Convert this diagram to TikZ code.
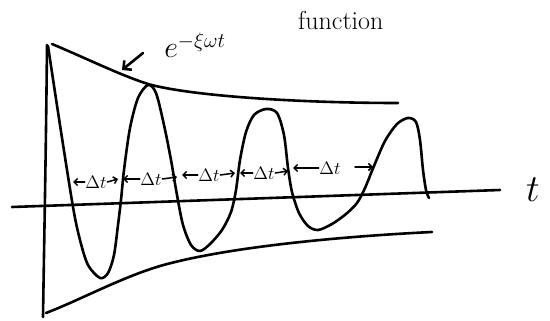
\documentclass[tikz,border=0pt]{standalone}
\usetikzlibrary{arrows.meta}
\begin{document}
\begin{tikzpicture}[x=1pt,y=-1pt,
  ink/.style={line width=2.6pt,line cap=round,line join=round},
  dtarrow/.style={line width=1.5pt,line cap=round,-{Straight Barb[length=3.5pt,width=7pt]}},
  dtlabel/.style={inner sep=0.3pt,font=\large,scale=1.5},
  bigtext/.style={inner sep=0pt,anchor=base west},
]
\useasboundingbox (0,0) rectangle (550,321);
% axes
\coordinate (ax0) at (12,207);
\coordinate (ax1) at (500,190);
\draw[ink] (ax0) -- (ax1);
\coordinate (vy0) at (47,45);
\coordinate (vy1) at (43,317);
\draw[ink] (vy0) .. controls (46,150) and (44,250) .. (vy1);
% envelopes
\draw[ink] (52,44) .. controls (90,60) and (120,75) .. (148,84) .. controls (190,96) and (300,103) .. (398,103);
\draw[ink] (46,313) .. controls (80,300) and (120,278) .. (160,266) .. controls (230,246) and (350,236) .. (432,232);
% damped wave
\draw[ink] plot[smooth,tension=0.5] coordinates {
  (48,46) (60,125) (73,207) (80,240) (88,265) (100,278) (108,273) (114,255) (118,225) (121,200) (124,170) (130,128) (138,98) (148,85)
  (156,93) (164,125) (171,160) (177,195) (183,225) (191,245) (200,251) (210,244) (222,230) (231,212) (236,190) (240,160) (246,132) (254,115) (266,109)
  (277,113) (284,135) (288,168) (292,192) (299,213) (308,226) (318,230) (332,224) (346,214) (357,203) (365,188) (374,166) (385,141) (397,124) (408,118)
  (416,122) (420,140) (423,170) (426,190) (429,198)};
% labels
\node[bigtext,font=\huge,scale=1.45] (e) at (164,58) {$e^{-\xi\omega t}$};
\node[bigtext,font=\fontsize{26}{26}\selectfont] (fn) at (298,30) {function};
\node[inner sep=0pt,font=\huge,scale=1.85] (t) at (533,190) {$t$};
\coordinate (ea) at (143,53);
\coordinate (eb) at (122,70);
\draw[ink,-{Straight Barb[length=6pt,width=12pt]}] (ea) -- (eb);
% delta t markers
\node[dtlabel] (d1) at (96,182) {$\Delta t$};
\coordinate (c1a) at (73,182); \coordinate (c1b) at (118,179);
\draw[dtarrow] (d1.west) -- (c1a); \draw[dtarrow] (d1.east) -- (c1b);
\node[dtlabel] (d2) at (151,179) {$\Delta t$};
\coordinate (c2a) at (123,179); \coordinate (c2b) at (177,177);
\draw[dtarrow] (d2.west) -- (c2a); \draw[dtarrow] (d2.east) -- (c2b);
\node[dtlabel] (d3) at (209,175) {$\Delta t$};
\coordinate (c3a) at (182,175); \coordinate (c3b) at (235,173);
\draw[dtarrow] (d3.west) -- (c3a); \draw[dtarrow] (d3.east) -- (c3b);
\node[dtlabel] (d4) at (264,173) {$\Delta t$};
\coordinate (c4a) at (240,173); \coordinate (c4b) at (288,171);
\draw[dtarrow] (d4.west) -- (c4a); \draw[dtarrow] (d4.east) -- (c4b);
\node[dtlabel] (d5) at (330,168) {$\Delta t$};
\coordinate (c5a) at (293,168); \coordinate (c5s) at (355,167); \coordinate (c5b) at (373,167);
\draw[dtarrow] (d5.west) -- (c5a); \draw[dtarrow] (c5s) -- (c5b);
\end{tikzpicture}
\end{document}
